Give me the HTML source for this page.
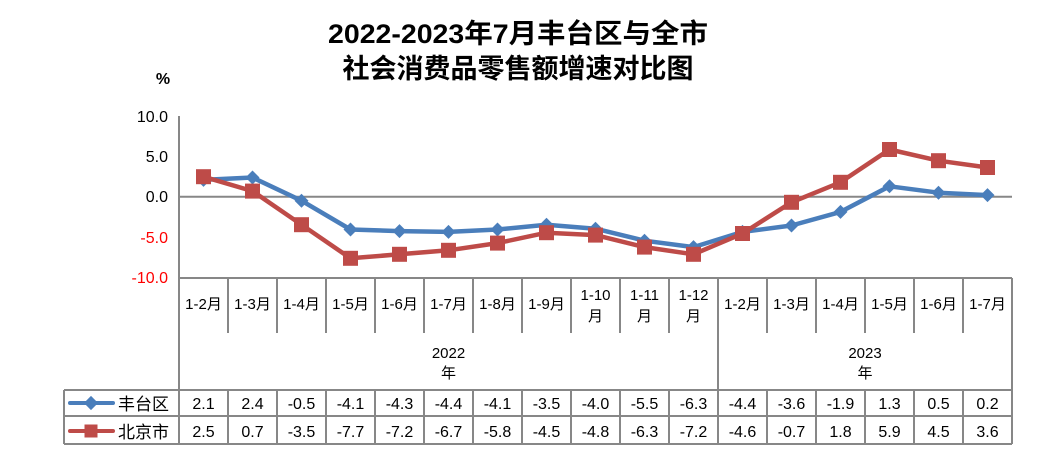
<!DOCTYPE html>
<html><head><meta charset="utf-8"><style>
html,body{margin:0;padding:0;background:#fff;}
svg{display:block;}
text{font-family:"Liberation Sans","Noto Sans CJK SC",sans-serif;}
</style></head><body>
<svg width="1037" height="471" viewBox="0 0 1037 471" xmlns="http://www.w3.org/2000/svg">
<text x="518" y="43" text-anchor="middle" font-size="27" font-weight="bold" fill="#000" textLength="380" lengthAdjust="spacingAndGlyphs">2022-2023年7月丰台区与全市</text>
<text x="518" y="78" text-anchor="middle" font-size="27" font-weight="bold" fill="#000">社会消费品零售额增速对比图</text>
<text x="163" y="84" text-anchor="middle" font-size="16" font-weight="bold">%</text>
<g font-size="16" text-anchor="end">
<text x="168" y="122">10.0</text>
<text x="168" y="162">5.0</text>
<text x="168" y="202">0.0</text>
<text x="168" y="243" fill="#f00">-5.0</text>
<text x="168" y="283" fill="#f00">-10.0</text>
</g>
<g stroke="#878787" stroke-width="2" fill="none">
<line x1="179" y1="116" x2="179" y2="444"/>
<line x1="179" y1="196.7" x2="1012" y2="196.7"/>
<line x1="179" y1="278" x2="1012" y2="278"/>
<line x1="1012" y1="278" x2="1012" y2="444"/>
<line x1="718" y1="278" x2="718" y2="444"/>
<line x1="64" y1="390" x2="1012" y2="390"/>
<line x1="64" y1="416" x2="1012" y2="416"/>
<line x1="64" y1="444" x2="1012" y2="444"/>
<line x1="64" y1="390" x2="64" y2="444"/>
<path d="M228 278V333M277 278V333M326 278V333M375 278V333M424 278V333M473 278V333M522 278V333M571 278V333M620 278V333M669 278V333M767 278V333M816 278V333M865 278V333M914 278V333M963 278V333"/>
<path d="M228 390V444M277 390V444M326 390V444M375 390V444M424 390V444M473 390V444M522 390V444M571 390V444M620 390V444M669 390V444M767 390V444M816 390V444M865 390V444M914 390V444M963 390V444"/>
</g>
<g font-size="15" text-anchor="middle">
<text x="203.5" y="309">1-2月</text><text x="252.5" y="309">1-3月</text><text x="301.5" y="309">1-4月</text><text x="350.5" y="309">1-5月</text><text x="399.5" y="309">1-6月</text><text x="448.5" y="309">1-7月</text><text x="497.5" y="309">1-8月</text><text x="546.5" y="309">1-9月</text>
<text x="595.5" y="300">1-10</text><text x="595.5" y="321">月</text>
<text x="644.5" y="300">1-11</text><text x="644.5" y="321">月</text>
<text x="693.5" y="300">1-12</text><text x="693.5" y="321">月</text>
<text x="742.5" y="309">1-2月</text><text x="791.5" y="309">1-3月</text><text x="840.5" y="309">1-4月</text><text x="889.5" y="309">1-5月</text><text x="938.5" y="309">1-6月</text><text x="987.5" y="309">1-7月</text>
<text x="448.5" y="358">2022</text><text x="448.5" y="378">年</text>
<text x="865" y="358">2023</text><text x="865" y="378">年</text>
</g>
<g font-size="16" text-anchor="middle">
<text x="203.5" y="409">2.1</text><text x="252.5" y="409">2.4</text><text x="301.5" y="409">-0.5</text><text x="350.5" y="409">-4.1</text><text x="399.5" y="409">-4.3</text><text x="448.5" y="409">-4.4</text><text x="497.5" y="409">-4.1</text><text x="546.5" y="409">-3.5</text><text x="595.5" y="409">-4.0</text><text x="644.5" y="409">-5.5</text><text x="693.5" y="409">-6.3</text><text x="742.5" y="409">-4.4</text><text x="791.5" y="409">-3.6</text><text x="840.5" y="409">-1.9</text><text x="889.5" y="409">1.3</text><text x="938.5" y="409">0.5</text><text x="987.5" y="409">0.2</text>
<text x="203.5" y="437">2.5</text><text x="252.5" y="437">0.7</text><text x="301.5" y="437">-3.5</text><text x="350.5" y="437">-7.7</text><text x="399.5" y="437">-7.2</text><text x="448.5" y="437">-6.7</text><text x="497.5" y="437">-5.8</text><text x="546.5" y="437">-4.5</text><text x="595.5" y="437">-4.8</text><text x="644.5" y="437">-6.3</text><text x="693.5" y="437">-7.2</text><text x="742.5" y="437">-4.6</text><text x="791.5" y="437">-0.7</text><text x="840.5" y="437">1.8</text><text x="889.5" y="437">5.9</text><text x="938.5" y="437">4.5</text><text x="987.5" y="437">3.6</text>
</g>
<g font-size="17">
<text x="118" y="410">丰台区</text>
<text x="118" y="438">北京市</text>
</g>
<line x1="70" y1="403" x2="113" y2="403" stroke="#4a7ebb" stroke-width="4" stroke-linecap="round"/>
<rect x="86" y="398" width="10" height="10" fill="#4a7ebb" transform="rotate(45 91 403)"/>
<line x1="70" y1="431" x2="113" y2="431" stroke="#be4b48" stroke-width="4" stroke-linecap="round"/>
<rect x="84.5" y="424.5" width="13" height="13" fill="#be4b48"/>
<polyline fill="none" stroke="#4a7ebb" stroke-width="4.5" stroke-linejoin="round" points="203.5,179.9 252.5,177.5 301.5,200.7 350.5,229.5 399.5,231.1 448.5,231.9 497.5,229.5 546.5,224.7 595.5,228.7 644.5,240.7 693.5,247.1 742.5,231.9 791.5,225.5 840.5,211.9 889.5,186.3 938.5,192.7 987.5,195.1"/>
<g fill="#4a7ebb">
<path d="M203.5 172.9l7 7-7 7-7-7z"/><path d="M252.5 170.5l7 7-7 7-7-7z"/><path d="M301.5 193.7l7 7-7 7-7-7z"/><path d="M350.5 222.5l7 7-7 7-7-7z"/><path d="M399.5 224.1l7 7-7 7-7-7z"/><path d="M448.5 224.9l7 7-7 7-7-7z"/><path d="M497.5 222.5l7 7-7 7-7-7z"/><path d="M546.5 217.7l7 7-7 7-7-7z"/><path d="M595.5 221.7l7 7-7 7-7-7z"/><path d="M644.5 233.7l7 7-7 7-7-7z"/><path d="M693.5 240.1l7 7-7 7-7-7z"/><path d="M742.5 224.9l7 7-7 7-7-7z"/><path d="M791.5 218.5l7 7-7 7-7-7z"/><path d="M840.5 204.9l7 7-7 7-7-7z"/><path d="M889.5 179.3l7 7-7 7-7-7z"/><path d="M938.5 185.7l7 7-7 7-7-7z"/><path d="M987.5 188.1l7 7-7 7-7-7z"/>
</g>
<polyline fill="none" stroke="#be4b48" stroke-width="4.5" stroke-linejoin="round" points="203.5,176.7 252.5,191.1 301.5,224.7 350.5,258.3 399.5,254.3 448.5,250.3 497.5,243.1 546.5,232.7 595.5,235.1 644.5,247.1 693.5,254.3 742.5,233.5 791.5,202.3 840.5,182.3 889.5,149.5 938.5,160.7 987.5,167.5"/>
<g fill="#be4b48">
<rect x="196" y="169.2" width="15" height="15"/><rect x="245" y="183.6" width="15" height="15"/><rect x="294" y="217.2" width="15" height="15"/><rect x="343" y="250.8" width="15" height="15"/><rect x="392" y="246.8" width="15" height="15"/><rect x="441" y="242.8" width="15" height="15"/><rect x="490" y="235.6" width="15" height="15"/><rect x="539" y="225.2" width="15" height="15"/><rect x="588" y="227.6" width="15" height="15"/><rect x="637" y="239.6" width="15" height="15"/><rect x="686" y="246.8" width="15" height="15"/><rect x="735" y="226" width="15" height="15"/><rect x="784" y="194.8" width="15" height="15"/><rect x="833" y="174.8" width="15" height="15"/><rect x="882" y="142" width="15" height="15"/><rect x="931" y="153.2" width="15" height="15"/><rect x="980" y="160" width="15" height="15"/>
</g>
</svg>
</body></html>
